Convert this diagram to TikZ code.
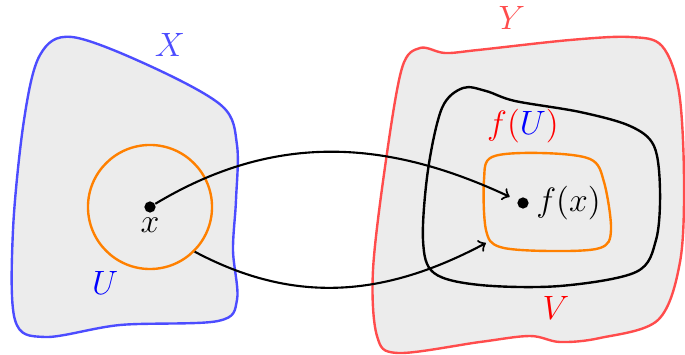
\documentclass[tikz,border=0pt]{standalone}
\usepackage{amsmath, amssymb}
\usepackage{tikz}
\usetikzlibrary{positioning}

\begin{document}
\begin{tikzpicture}[x=0.0125cm, y=-0.0125cm, font=\large,
    halmaz/.style={line width=0.85pt, fill=gray!15},
    pont/.style={circle, fill=black, inner sep=0pt, minimum size=4pt},
    nyil/.style={->, line width=0.75pt}]
    \useasboundingbox (0,0) rectangle (685,355);

    % halmazok
    \draw[halmaz, draw=blue!70] plot[smooth cycle, tension=0.55] coordinates {
        (40,55) (72,37) (150,66) (222,106) (237,145) (236,200)
        (233,250) (237,300) (218,321) (120,325) (45,337) (15,320)
        (13,230) (24,120)};
    \draw[halmaz, draw=red!70] plot[smooth cycle, tension=0.55] coordinates {
        (420,48) (445,53) (478,50) (570,40) (630,37) (662,46)
        (679,92) (684,180) (680,262) (658,320) (600,338) (560,342)
        (530,336) (480,342) (398,353) (377,336) (373,270) (386,160)
        (402,68)};
    \draw[line width=0.85pt] plot[smooth cycle, tension=0.55] coordinates {
        (463,88) (486,91) (515,101) (580,112) (630,126) (654,146)
        (660,190) (656,240) (636,272) (560,286) (480,285) (434,273)
        (423,240) (428,170) (442,108)};
    \draw[line width=0.85pt, draw=orange] plot[smooth cycle, tension=0.55] coordinates {
        (492,157) (540,153) (590,159) (604,182) (611,230) (600,248)
        (550,251) (500,247) (486,230) (484,180)};

    % kornyezet es pontok
    \node[circle, draw=orange, line width=0.85pt, minimum size=1.55cm, inner sep=0pt] (Ucirc) at (150,207) {};
    \node[pont] (x) at (150,207) {};
    \node[pont] (fx) at (523,203) {};
    \coordinate (fUend) at (486,243);

    % feliratok
    \node (xlab) at (150,225) {$x$};
    \node[right=-1pt of fx] (fxlab) {$f(x)$};
    \node[text=blue!70] (Xlab) at (170,45) {$X$};
    \node[text=blue] (Ulab) at (105,283) {$U$};
    \node[text=red!70] (Ylab) at (512,18) {$Y$};
    \node[text=red] (Vlab) at (556,308) {$V$};
    \node[text=red] (fUlab) at (523,126) {$f(\textcolor{blue}{U})$};

    % nyilak
    \draw[nyil, shorten >=3pt] (x) to[out=31, in=155] (fx);
    \draw[nyil] (Ucirc.-45) to[out=-28, in=208] (fUend);
\end{tikzpicture}
\end{document}
